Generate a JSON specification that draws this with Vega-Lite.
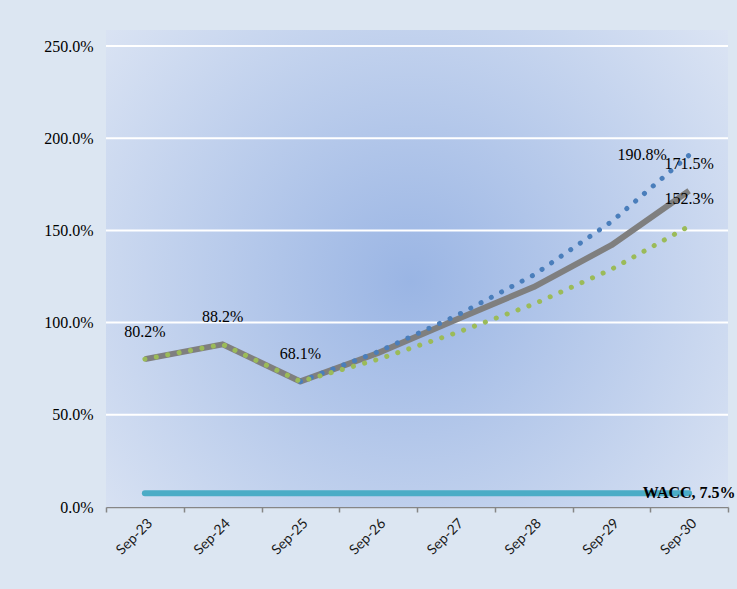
{
  "$schema": "https://vega.github.io/schema/vega-lite/v6.json",
  "width": 622,
  "height": 477,
  "autosize": "none",
  "padding": {"left": 106, "top": 30, "right": 9, "bottom": 82},
  "background": "#dce6f2",
  "config": {"view": {"stroke": null}, "font": "Liberation Serif"},
  "datasets": {
    "series": [
      {"date": "Sep-23", "series": "Base", "value": 80.2, "label": "80.2%"},
      {"date": "Sep-24", "series": "Base", "value": 88.2, "label": "88.2%"},
      {"date": "Sep-25", "series": "Base", "value": 68.1, "label": "68.1%"},
      {"date": "Sep-26", "series": "Base", "value": 83.5},
      {"date": "Sep-27", "series": "Base", "value": 101.5},
      {"date": "Sep-28", "series": "Base", "value": 119.3},
      {"date": "Sep-29", "series": "Base", "value": 142.0},
      {"date": "Sep-30", "series": "Base", "value": 171.5, "label": "171.5%"},
      {"date": "Sep-25", "series": "High", "value": 68.1},
      {"date": "Sep-26", "series": "High", "value": 84.2},
      {"date": "Sep-27", "series": "High", "value": 103.6},
      {"date": "Sep-28", "series": "High", "value": 125.8},
      {"date": "Sep-29", "series": "High", "value": 154.7},
      {"date": "Sep-30", "series": "High", "value": 190.8, "label": "190.8%"},
      {"date": "Sep-23", "series": "Low", "value": 80.2},
      {"date": "Sep-24", "series": "Low", "value": 88.2},
      {"date": "Sep-25", "series": "Low", "value": 68.1},
      {"date": "Sep-26", "series": "Low", "value": 80.1},
      {"date": "Sep-27", "series": "Low", "value": 94.4},
      {"date": "Sep-28", "series": "Low", "value": 110.0},
      {"date": "Sep-29", "series": "Low", "value": 128.9},
      {"date": "Sep-30", "series": "Low", "value": 152.3, "label": "152.3%"},
      {"date": "Sep-23", "series": "WACC", "value": 7.5},
      {"date": "Sep-24", "series": "WACC", "value": 7.5},
      {"date": "Sep-25", "series": "WACC", "value": 7.5},
      {"date": "Sep-26", "series": "WACC", "value": 7.5},
      {"date": "Sep-27", "series": "WACC", "value": 7.5},
      {"date": "Sep-28", "series": "WACC", "value": 7.5},
      {"date": "Sep-29", "series": "WACC", "value": 7.5},
      {"date": "Sep-30", "series": "WACC", "value": 7.5, "label": "WACC, 7.5%"}
    ],
    "grid": [{"value": 50}, {"value": 100}, {"value": 150}, {"value": 200}, {"value": 250}]
  },
  "data": {"name": "series"},
  "encoding": {
    "x": {
      "field": "date",
      "type": "nominal",
      "scale": {"type": "band", "paddingInner": 0, "paddingOuter": 0, "domain": ["Sep-23", "Sep-24", "Sep-25", "Sep-26", "Sep-27", "Sep-28", "Sep-29", "Sep-30"]},
      "axis": {
        "title": null,
        "labelAngle": -45,
        "labelFont": "Lato",
        "labelFontSize": 14,
        "labelColor": "#1a1a1a",
        "domainColor": "#868686",
        "domainWidth": 1.5,
        "tickColor": "#868686",
        "tickWidth": 1.5,
        "tickSize": 5,
        "tickBand": "extent",
        "grid": false,
        "labelPadding": 4
      }
    },
    "y": {
      "field": "value",
      "type": "quantitative",
      "scale": {"domain": [0, 258.7], "nice": false, "zero": true},
      "axis": {
        "title": null,
        "values": [0, 50, 100, 150, 200, 250],
        "labelExpr": "format(datum.value, '.1f') + '%'",
        "domain": false,
        "ticks": false,
        "grid": false,
        "labelFont": "Liberation Serif",
        "labelFontSize": 16,
        "labelColor": "#000000",
        "labelPadding": 13
      }
    }
  },
  "layer": [
    {
      "data": {"values": [{"bg": 1}]},
      "mark": {
        "type": "rect",
        "color": {
          "gradient": "radial",
          "x1": 0.49, "y1": 0.52, "r1": 0,
          "x2": 0.49, "y2": 0.52, "r2": 0.72,
          "stops": [
            {"offset": 0, "color": "#9ab5e4"},
            {"offset": 1, "color": "#e2e9f5"}
          ]
        }
      },
      "encoding": {
        "x": {"value": 0},
        "x2": {"value": "width"},
        "y": {"value": 0},
        "y2": {"value": "height"}
      }
    },
    {
      "data": {"name": "grid"},
      "mark": {"type": "rule", "color": "#ffffff", "strokeWidth": 2},
      "encoding": {
        "x": {"value": 0},
        "x2": {"value": "width"},
        "y": {"field": "value", "type": "quantitative"}
      }
    },
    {
      "transform": [{"filter": "datum.series === 'WACC'"}],
      "mark": {"type": "line", "color": "#4bacc6", "strokeWidth": 6, "strokeCap": "round"}
    },
    {
      "transform": [{"filter": "datum.series === 'Base'"}],
      "mark": {"type": "line", "color": "#7f7f7f", "strokeWidth": 6, "strokeJoin": "round"}
    },
    {
      "transform": [{"filter": "datum.series === 'High'"}],
      "mark": {"type": "line", "color": "#4a7ebb", "strokeWidth": 5, "strokeCap": "round", "strokeDash": [0.1, 11.5]}
    },
    {
      "transform": [{"filter": "datum.series === 'Low'"}],
      "mark": {"type": "line", "color": "#9bbb59", "strokeWidth": 5, "strokeCap": "round", "strokeDash": [0.1, 11.5]}
    },
    {
      "transform": [{"filter": "datum.label && datum.series !== 'High' && datum.series !== 'WACC'"}],
      "mark": {"type": "text", "dy": -27, "fontSize": 16, "font": "Liberation Serif", "color": "#000000"},
      "encoding": {"text": {"field": "label"}}
    },
    {
      "transform": [{"filter": "datum.label && datum.series === 'High'"}],
      "mark": {"type": "text", "dx": -47, "dy": 0, "fontSize": 16, "font": "Liberation Serif", "color": "#000000"},
      "encoding": {"text": {"field": "label"}}
    },
    {
      "transform": [{"filter": "datum.label && datum.series === 'WACC'"}],
      "mark": {"type": "text", "dy": 0, "fontSize": 16, "fontWeight": "bold", "font": "Liberation Serif", "color": "#000000"},
      "encoding": {"text": {"field": "label"}}
    }
  ]
}
